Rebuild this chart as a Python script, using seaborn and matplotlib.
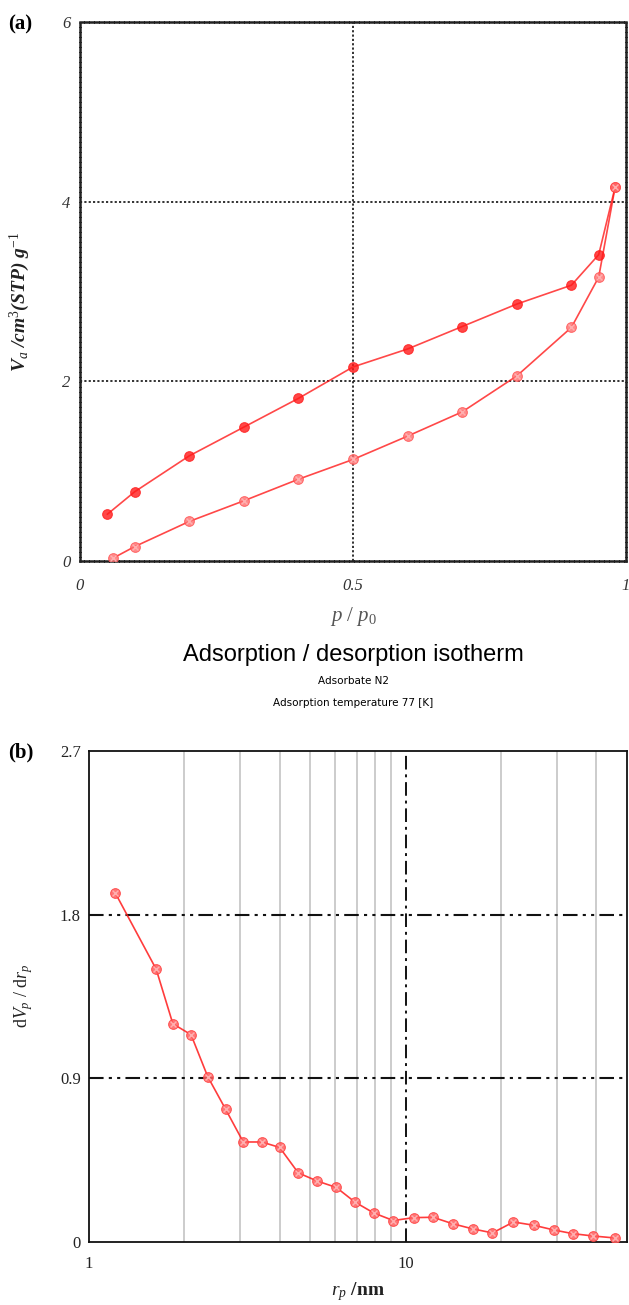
import numpy as np
import pandas as pd
import matplotlib
matplotlib.use("Agg")
import matplotlib.pyplot as plt
import seaborn as sns
from matplotlib.ticker import FixedLocator, NullFormatter, FixedFormatter

# ---------------- data ----------------
# (a) isotherm
ads_p = [0.06, 0.10, 0.20, 0.30, 0.40, 0.50, 0.60, 0.70, 0.80, 0.90, 0.95, 0.98]
ads_v = [0.03, 0.16, 0.44, 0.67, 0.91, 1.13, 1.39, 1.66, 2.06, 2.60, 3.16, 4.16]
des_p = [0.98, 0.95, 0.90, 0.80, 0.70, 0.60, 0.50, 0.40, 0.30, 0.20, 0.10, 0.05]
des_v = [4.16, 3.41, 3.07, 2.86, 2.61, 2.36, 2.16, 1.81, 1.49, 1.17, 0.77, 0.52]
a_xticks = [0, 0.5, 1]
a_xticklabels = ["0", "0.5", "1"]
a_yticks = [0, 2, 4, 6]

# (b) pore size distribution
rp = [1.21, 1.63, 1.84, 2.10, 2.37, 2.70, 3.07, 3.51, 4.00, 4.58, 5.26, 6.04,
      6.91, 7.92, 9.14, 10.6, 12.2, 14.1, 16.3, 18.8, 21.9, 25.4, 29.4, 33.7,
      39.1, 45.9]
dvdr = [1.92, 1.50, 1.20, 1.14, 0.91, 0.73, 0.55, 0.55, 0.52, 0.38, 0.335, 0.30,
        0.22, 0.16, 0.118, 0.134, 0.136, 0.10, 0.072, 0.05, 0.11, 0.092, 0.066,
        0.046, 0.033, 0.022]
b_yticks = [0, 0.9, 1.8, 2.7]
b_yticklabels = ["0", "0.9", "1.8", "2.7"]
b_xticks = [1, 10]
b_xticklabels = ["1", "10"]
b_minor = [2, 3, 4, 5, 6, 7, 8, 9, 20, 30, 40]

# ---------------- style ----------------
sns.set_theme(style="white")
plt.rcParams["font.family"] = ["Liberation Serif", "DejaVu Serif"]
plt.rcParams["mathtext.fontset"] = "custom"
plt.rcParams["mathtext.rm"] = "Liberation Serif"
plt.rcParams["mathtext.it"] = "Liberation Serif:italic"
plt.rcParams["mathtext.bf"] = "Liberation Serif:bold"

W, H = 629, 1305
fig = plt.figure(figsize=(W / 100, H / 100), dpi=100)

def fx(px):
    return px / W

def fy(py):
    return 1 - py / H

red = "#ff1a1a"

# ---------------- panel (a) ----------------
axa = fig.add_axes([fx(80), fy(561), fx(626 - 80), (561 - 22) / H])
df_ads = pd.DataFrame({"p": ads_p, "v": ads_v})
df_des = pd.DataFrame({"p": des_p, "v": des_v})
sns.lineplot(data=df_des, x="p", y="v", sort=False, ax=axa, color=red, lw=1.2,
             alpha=0.8, marker="o", markersize=7, markerfacecolor=red,
             markeredgecolor=red, zorder=3)
sns.lineplot(data=df_ads, x="p", y="v", sort=False, ax=axa, color=red, lw=1.2,
             alpha=0.8, marker="o", markersize=7, markerfacecolor="#ff7070",
             markeredgecolor="#ff5050", zorder=4)
axa.scatter(ads_p, ads_v, marker="x", s=18, color="#ffb0b0", lw=1.0, zorder=5)
axa.set_xlim(0, 1)
axa.set_ylim(0, 6)
axa.set_xticks(a_xticks)
axa.set_xticklabels(a_xticklabels)
axa.set_yticks(a_yticks)
for lab in axa.get_xticklabels() + axa.get_yticklabels():
    lab.set_fontstyle("italic")
    lab.set_fontsize(12)
    lab.set_color("#333333")
axa.tick_params(axis="both", length=0)
axa.tick_params(axis="x", pad=12)
axa.tick_params(axis="y", pad=7)
for yv in [2, 4]:
    axa.axhline(yv, color="#222222", lw=1.3, ls=(0, (1.2, 1.2)), zorder=1)
axa.axvline(0.5, color="#222222", lw=1.3, ls=(0, (1.2, 1.2)), zorder=1)
for s in axa.spines.values():
    s.set_linestyle((0, (1.2, 0.8)))
    s.set_linewidth(1.8)
    s.set_color("#222222")
axa.set_xlabel("")
axa.set_ylabel("")
fig.text(fx(20), fy(302), r"V$_a$ /cm$^3$(STP) g$^{-1}$", rotation=90,
         ha="center", va="center", fontsize=14, fontstyle="italic",
         fontweight="bold", color="#222222")
fig.text(fx(353), fy(616), r"$p$ / $p_0$", ha="center", va="center",
         fontsize=15, color="#555555")
fig.text(fx(353), fy(655), "Adsorption / desorption isotherm", ha="center",
         va="center", fontsize=17, family=["Liberation Sans", "DejaVu Sans"],
         color="black")
fig.text(fx(353), fy(681), "Adsorbate N2", ha="center", va="center",
         fontsize=7.5, family=["DejaVu Sans"], color="black")
fig.text(fx(353), fy(703), "Adsorption temperature 77 [K]", ha="center",
         va="center", fontsize=7.5, family=["DejaVu Sans"], color="black")
fig.text(fx(8), fy(24), "(a)", ha="left", va="center", fontsize=15,
         fontweight="bold", color="black")

# ---------------- panel (b) ----------------
axb = fig.add_axes([fx(89), fy(1242), fx(627 - 89), (1242 - 751) / H])
df_b = pd.DataFrame({"r": rp, "d": dvdr})
axb.set_xscale("log")
sns.lineplot(data=df_b, x="r", y="d", sort=False, ax=axb, color=red, lw=1.2,
             alpha=0.85, marker="o", markersize=7, markerfacecolor="#ff6060",
             markeredgecolor="#ff4040", zorder=4)
axb.scatter(rp, dvdr, marker="x", s=18, color="#ffb0b0", lw=1.0, zorder=5)
axb.set_xlim(1, 50)
axb.set_ylim(0, 2.7)
axb.xaxis.set_major_locator(FixedLocator(b_xticks))
axb.xaxis.set_major_formatter(FixedFormatter(b_xticklabels))
axb.xaxis.set_minor_locator(FixedLocator(b_minor))
axb.xaxis.set_minor_formatter(NullFormatter())
axb.set_yticks(b_yticks)
axb.set_yticklabels(b_yticklabels)
for lab in axb.get_xticklabels() + axb.get_yticklabels():
    lab.set_fontsize(12)
    lab.set_color("#222222")
axb.tick_params(axis="both", which="both", length=0)
axb.tick_params(axis="x", pad=10)
axb.tick_params(axis="y", pad=6)
for xv in b_minor:
    axb.axvline(xv, color="#c4c4c4", lw=1.2, zorder=1)
axb.axvline(10, color="#111111", lw=1.4, ls=(0, (7, 2.5, 1.5, 2.5)), zorder=2)
for yv in [0.9, 1.8]:
    axb.axhline(yv, color="#111111", lw=1.5,
                ls=(0, (7, 2.5, 1.5, 2.5, 1.5, 2.5)), zorder=2)
for s in axb.spines.values():
    s.set_linewidth(1.3)
    s.set_color("#111111")
axb.set_xlabel("")
axb.set_ylabel("")
fig.text(fx(24), fy(996), r"d$V_p$ / d$r_p$", rotation=90, ha="center",
         va="center", fontsize=13, color="#222222")
fig.text(fx(358), fy(1292), r"$r_p$ /nm", ha="center", va="center",
         fontsize=14, fontweight="bold", color="#222222")
fig.text(fx(8), fy(752), "(b)", ha="left", va="center", fontsize=15,
         fontweight="bold", color="black")

fig.savefig("out.png", dpi=100)
